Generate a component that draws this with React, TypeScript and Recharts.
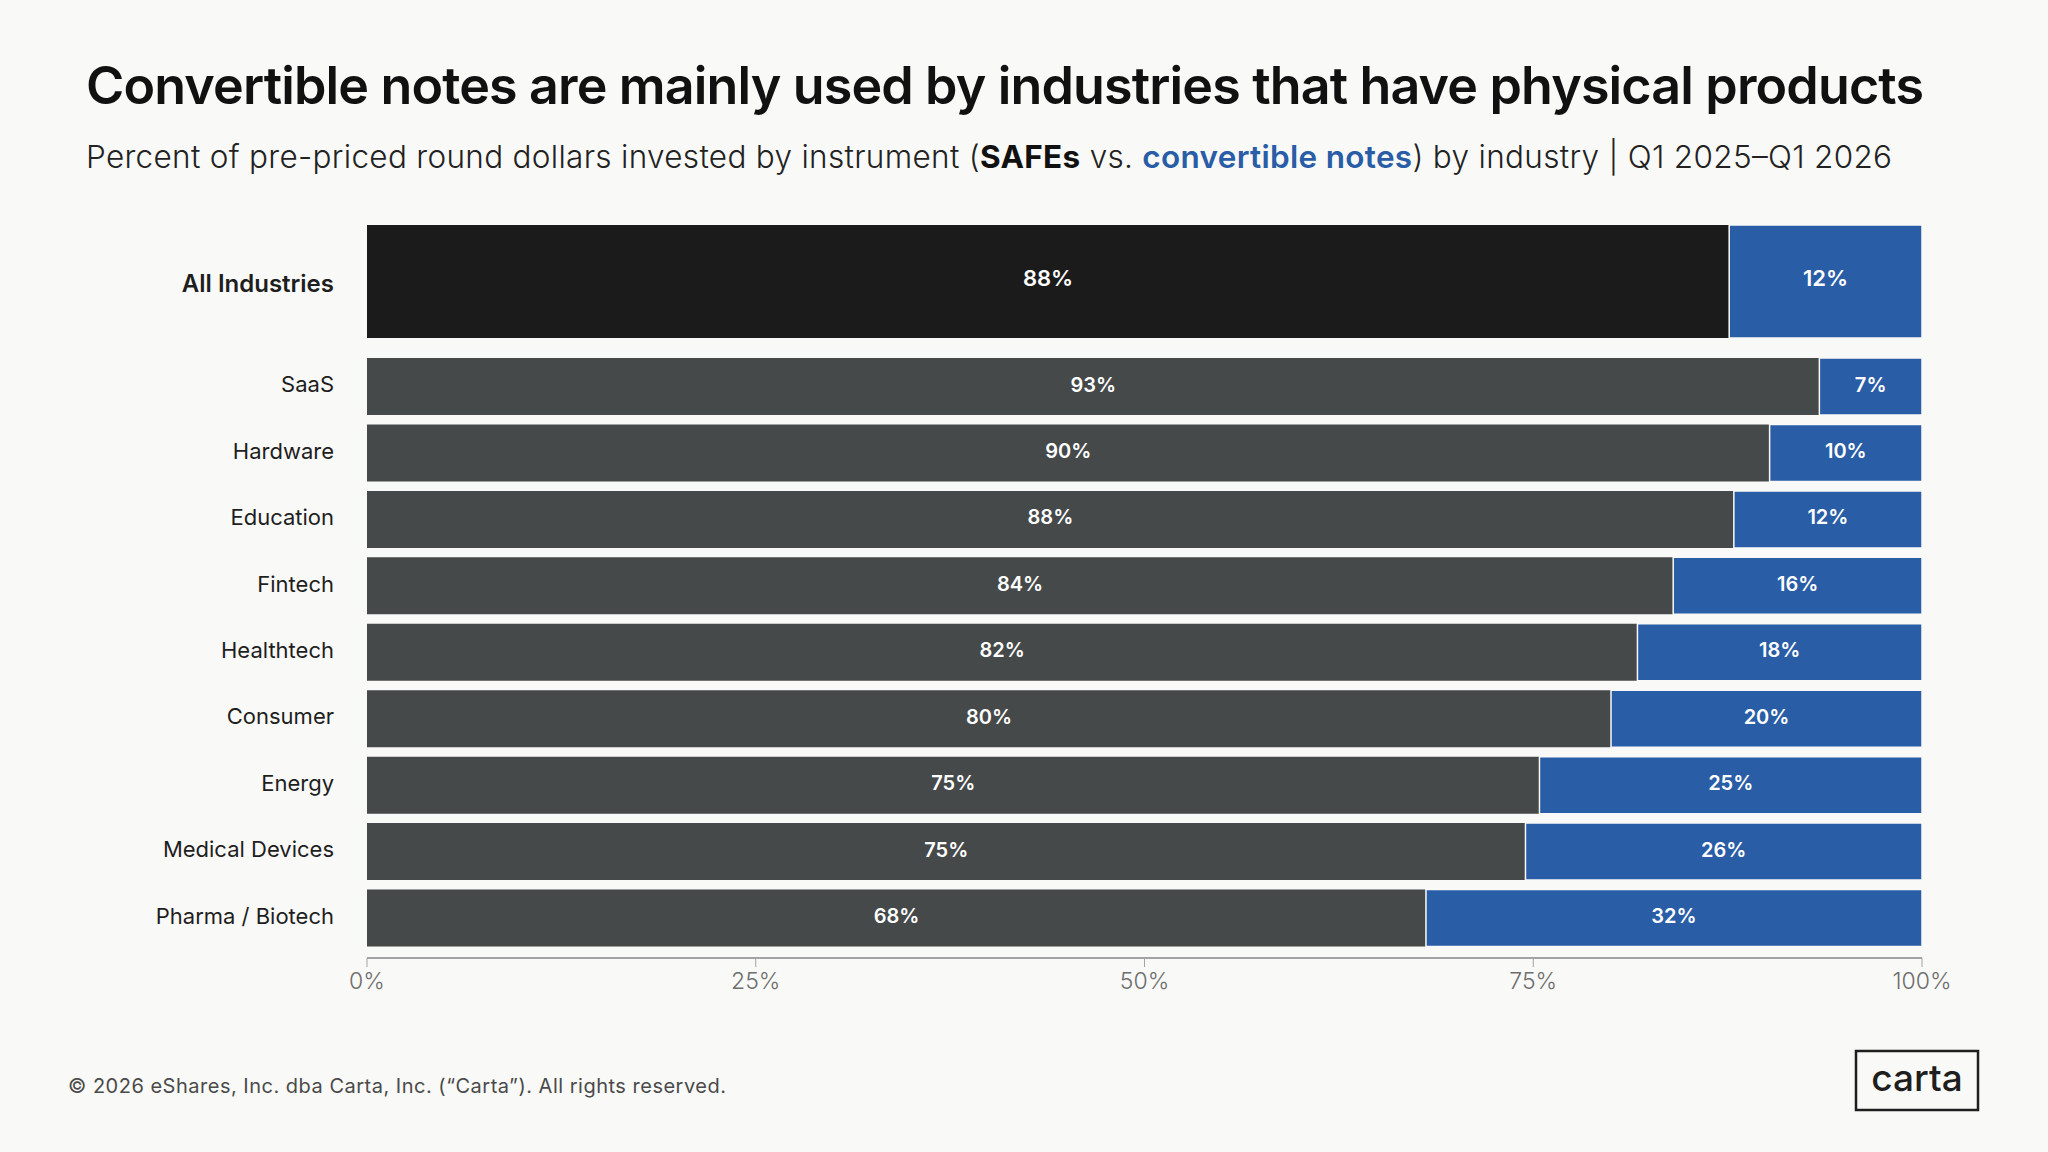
import React from 'react';
import { BarChart, Bar, XAxis, YAxis, LabelList } from 'recharts';

const industries = [
  'SaaS',
  'Hardware',
  'Education',
  'Fintech',
  'Healthtech',
  'Consumer',
  'Energy',
  'Medical Devices',
  'Pharma / Biotech',
];
const safeShare = [93.4, 90.2, 87.9, 84.0, 81.7, 80.0, 75.4, 74.5, 68.1];
const noteShare = [6.6, 9.8, 12.1, 16.0, 18.3, 20.0, 24.6, 25.5, 31.9];

const allLabel = 'All Industries';
const allSafe = [87.6];
const allNote = [12.4];

const xTicks = [0, 25, 50, 75, 100];

const rows = industries.map((name, i) => ({ name, safe: safeShare[i], note: noteShare[i] }));
const allRows = [{ name: allLabel, safe: allSafe[0], note: allNote[0] }];

const BG = '#f9f9f7';
const DARK = '#46494a';
const BLACK = '#1b1b1b';
const BLUE = '#295da6';
const FONT = 'Inter, "Noto Sans", sans-serif';

const pct = (v: any) => `${Math.round(Number(v))}%`;

const IndustryTick = (props: any) => {
  const { y, payload, bold } = props;
  return (
    <text
      x={334}
      y={y}
      dy={bold ? 2 : -2}
      textAnchor="end"
      dominantBaseline="central"
      fontFamily={FONT}
      fontSize={bold ? 24 : 22}
      fontWeight={bold ? 600 : 400}
      fill="#1e1e1e"
    >
      {payload.value}
    </text>
  );
};

export default function App() {
  return (
    <div
      style={{
        position: 'absolute',
        left: 0,
        top: 0,
        width: 2048,
        height: 1152,
        background: BG,
        overflow: 'hidden',
        fontFamily: FONT,
      }}
    >
      <svg width={2048} height={1152} style={{ position: 'absolute', left: 0, top: 0 }}>
        <text
          x={86}
          y={104}
          fontFamily={FONT}
          fontSize={52}
          fontWeight={600}
          fill="#111"
          textLength={1838}
          lengthAdjust="spacing"
        >
          Convertible notes are mainly used by industries that have physical products
        </text>
        <text
          x={86}
          y={168}
          fontFamily={FONT}
          fontSize={31.5}
          fontWeight={300}
          fill="#222"
          textLength={1806}
          lengthAdjust="spacing"
        >
          Percent of pre-priced round dollars invested by instrument (
          <tspan fontWeight={700} fill="#111">SAFEs</tspan>
          {' vs. '}
          <tspan fontWeight={600} fill={BLUE}>convertible notes</tspan>
          ) by industry | Q1 2025–Q1 2026
        </text>
        <text
          x={68}
          y={1093}
          fontFamily={FONT}
          fontSize={20}
          fontWeight={400}
          fill="#4a4a4a"
          textLength={658}
          lengthAdjust="spacing"
        >
          © 2026 eShares, Inc. dba Carta, Inc. (“Carta”). All rights reserved.
        </text>
        <rect x={1856} y={1051} width={122} height={59} fill="none" stroke="#1e1e1e" strokeWidth={2.5} />
        <text
          x={1917}
          y={1091}
          textAnchor="middle"
          fontFamily={FONT}
          fontSize={37}
          fontWeight={500}
          fill="#1e1e1e"
        >
          carta
        </text>
      </svg>

      <div style={{ position: 'absolute', left: 0, top: 211 }}>
        <BarChart
          width={2048}
          height={140}
          data={allRows}
          layout="vertical"
          margin={{ top: 0, right: 126, bottom: 0, left: 0 }}
          barSize={113}
        >
          <XAxis type="number" domain={[0, 100]} hide />
          <YAxis
            type="category"
            dataKey="name"
            width={367}
            axisLine={false}
            tickLine={false}
            tick={<IndustryTick bold />}
          />
          <Bar dataKey="safe" stackId="a" fill={BLACK} isAnimationActive={false}>
            <LabelList
              dataKey="safe"
              position="center"
              formatter={pct}
              fill="#fff"
              fontFamily={FONT}
              fontSize={22}
              fontWeight={600}
              dy={-3}
            />
          </Bar>
          <Bar dataKey="note" stackId="a" fill={BLUE} stroke={BG} strokeWidth={1.5} isAnimationActive={false}>
            <LabelList
              dataKey="note"
              position="center"
              formatter={pct}
              fill="#fff"
              fontFamily={FONT}
              fontSize={22}
              fontWeight={600}
              dy={-3}
            />
          </Bar>
        </BarChart>
      </div>

      <div style={{ position: 'absolute', left: 0, top: 353 }}>
        <BarChart
          width={2048}
          height={655}
          data={rows}
          layout="vertical"
          margin={{ top: 0, right: 126, bottom: 0, left: 0 }}
          barSize={57}
        >
          <XAxis
            type="number"
            domain={[0, 100]}
            ticks={xTicks}
            tickFormatter={(v) => `${v}%`}
            height={50}
            axisLine={{ stroke: '#a3a3a3', strokeWidth: 2 }}
            tickLine={{ stroke: '#a3a3a3', strokeWidth: 1 }}
            tickSize={9}
            tickMargin={6}
            tick={{ fill: '#6e6e6e', fontSize: 23, fontWeight: 300, fontFamily: FONT }}
            interval={0}
          />
          <YAxis
            type="category"
            dataKey="name"
            width={367}
            axisLine={false}
            tickLine={false}
            padding={{ top: 0, bottom: 7 }}
            tick={<IndustryTick />}
            interval={0}
          />
          <Bar dataKey="safe" stackId="a" fill={DARK} isAnimationActive={false}>
            <LabelList
              dataKey="safe"
              position="center"
              formatter={pct}
              fill="#fff"
              fontFamily={FONT}
              fontSize={20}
              fontWeight={600}
              dy={-2}
            />
          </Bar>
          <Bar dataKey="note" stackId="a" fill={BLUE} stroke={BG} strokeWidth={1.5} isAnimationActive={false}>
            <LabelList
              dataKey="note"
              position="center"
              formatter={pct}
              fill="#fff"
              fontFamily={FONT}
              fontSize={20}
              fontWeight={600}
              dy={-2}
            />
          </Bar>
        </BarChart>
      </div>
    </div>
  );
}
